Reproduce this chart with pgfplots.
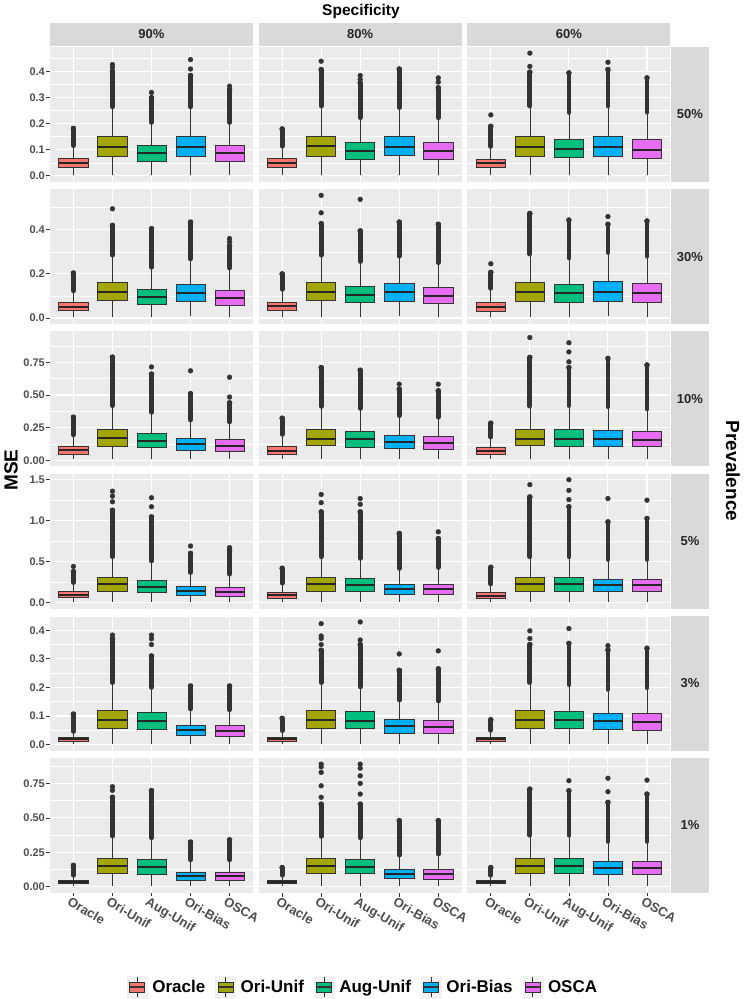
\documentclass[border=0pt]{standalone}
\usepackage{fontspec}
\setmainfont{Liberation Sans}
\usepackage{pgfplots}
\pgfplotsset{compat=1.18}
\usepgfplotslibrary{statistics}

\definecolor{cO}{HTML}{F8766D}
\definecolor{cU}{HTML}{A3A500}
\definecolor{cA}{HTML}{00BF7D}
\definecolor{cB}{HTML}{00B0F6}
\definecolor{cS}{HTML}{E76BF3}
\definecolor{ggbg}{HTML}{EBEBEB}
\definecolor{ggstrip}{HTML}{D9D9D9}
\definecolor{ggkey}{HTML}{F2F2F2}
\definecolor{gg20}{HTML}{333333}
\definecolor{gg30}{HTML}{4D4D4D}
\definecolor{ggtxt}{HTML}{262626}

% box: pos, colour, lower whisker, Q1, median, Q3, upper whisker, top of dense outlier column
\newcommand{\bx}[8]{%
\addplot[gg20, line width=4.8pt, line cap=round] coordinates {(#1,#7) (#1,#8)};
\addplot+[boxplot prepared={draw position=#1, lower whisker=#3, lower quartile=#4, median=#5, upper quartile=#6, upper whisker=#7, box extend=0.75, whisker extend=0}, draw=gg20, line width=0.7pt, fill=#2, solid, mark=*, mark size=2.4pt, mark options={draw=gg20, fill=gg20}] table[row sep=\\, y index=0] {y\\ #8\\};
}
\newcommand{\outl}[1]{\addplot[only marks, mark=*, mark size=2.4pt, gg20, mark options={draw=gg20, fill=gg20}] coordinates {#1};}

\pgfplotsset{
 panel/.style={scale only axis, width=203pt, height=135pt, anchor=south west,
   xmin=0.4, xmax=5.6, xtick={1,2,3,4,5}, xticklabels={},
   axis background/.style={fill=ggbg}, axis line style={draw=none},
   xmajorgrids, ymajorgrids, yminorgrids,
   major grid style={white, line width=1.1pt}, minor grid style={white, line width=0.55pt},
   tick align=outside, major tick length=3.5pt, minor tick length=0pt,
   xtick pos=left, ytick pos=left,
   tick style={gg20, line width=0.8pt},
   yticklabel style={font=\fontsize{11}{12}\selectfont\bfseries, text=gg30, inner sep=1.5pt},
   boxplot/draw direction=y,
   boxplot/every median/.style={line width=2pt, draw=black!85}},
 nox/.style={xtick style={draw=none}},
 noy/.style={ytick style={draw=none}, yticklabels={}},
 xlab/.style={xticklabels={Oracle,Ori-Unif,Aug-Unif,Ori-Bias,OSCA},
   xticklabel style={rotate=-30, anchor=north west, font=\fontsize{13}{14}\selectfont\bfseries, text=gg30, inner sep=1pt, xshift=-3pt}},
 r0/.style={ymin=-0.0235, ymax=0.4945, ytick={0,0.1,0.2,0.3,0.4}, yticklabels={0.0,0.1,0.2,0.3,0.4}, minor ytick={0.05,0.15,0.25,0.35,0.45}},
 r1/.style={ymin=-0.028, ymax=0.584, ytick={0,0.2,0.4}, yticklabels={0.0,0.2,0.4}, minor ytick={0.1,0.3,0.5}},
 r2/.style={ymin=-0.047, ymax=0.987, ytick={0,0.25,0.5,0.75}, yticklabels={0.00,0.25,0.50,0.75}, minor ytick={0.125,0.375,0.625,0.875}},
 r3/.style={ymin=-0.075, ymax=1.575, ytick={0,0.5,1,1.5}, yticklabels={0.0,0.5,1.0,1.5}, minor ytick={0.25,0.75,1.25}},
 r4/.style={ymin=-0.0215, ymax=0.4505, ytick={0,0.1,0.2,0.3,0.4}, yticklabels={0.0,0.1,0.2,0.3,0.4}, minor ytick={0.05,0.15,0.25,0.35,0.45}},
 r5/.style={ymin=-0.0445, ymax=0.9345, ytick={0,0.25,0.5,0.75}, yticklabels={0.00,0.25,0.50,0.75}, minor ytick={0.125,0.375,0.625,0.875}},
}

\begin{document}
\begin{tikzpicture}
\path[use as bounding box] (0pt,0pt) rectangle (746pt,999pt);

% ---------------- Row 0 : Prevalence 50% ----------------
\begin{axis}[panel, r0, nox, at={(50pt,817pt)}]
\bx{1}{cO}{0.005}{0.033}{0.050}{0.066}{0.116}{0.182}
\bx{2}{cU}{0.005}{0.075}{0.110}{0.151}{0.265}{0.400}
\bx{3}{cA}{0.005}{0.057}{0.087}{0.116}{0.205}{0.300}
\bx{4}{cB}{0.005}{0.075}{0.111}{0.151}{0.265}{0.385}
\bx{5}{cS}{0.005}{0.057}{0.087}{0.116}{0.205}{0.330}
\outl{(2,0.415) (2,0.427) (3,0.320) (4,0.410) (4,0.446) (5,0.344)}
\end{axis}
\begin{axis}[panel, r0, nox, noy, at={(258.7pt,817pt)}]
\bx{1}{cO}{0.005}{0.034}{0.050}{0.066}{0.114}{0.180}
\bx{2}{cU}{0.005}{0.075}{0.113}{0.152}{0.268}{0.408}
\bx{3}{cA}{0.005}{0.063}{0.094}{0.127}{0.223}{0.357}
\bx{4}{cB}{0.005}{0.077}{0.111}{0.151}{0.262}{0.410}
\bx{5}{cS}{0.005}{0.063}{0.094}{0.127}{0.223}{0.338}
\outl{(2,0.440) (3,0.370) (3,0.385) (5,0.360) (5,0.376)}
\end{axis}
\begin{axis}[panel, r0, nox, noy, at={(467.4pt,817pt)}]
\bx{1}{cO}{0.005}{0.033}{0.050}{0.065}{0.113}{0.190}
\bx{2}{cU}{0.005}{0.075}{0.112}{0.152}{0.268}{0.398}
\bx{3}{cA}{0.005}{0.070}{0.103}{0.139}{0.243}{0.395}
\bx{4}{cB}{0.005}{0.075}{0.112}{0.152}{0.268}{0.408}
\bx{5}{cS}{0.005}{0.069}{0.100}{0.139}{0.244}{0.376}
\outl{(1,0.234) (2,0.420) (2,0.471) (4,0.436)}
\end{axis}

% ---------------- Row 1 : 30% ----------------
\begin{axis}[panel, r1, nox, at={(50pt,674.8pt)}]
\bx{1}{cO}{0.005}{0.033}{0.051}{0.069}{0.123}{0.204}
\bx{2}{cU}{0.005}{0.080}{0.117}{0.162}{0.285}{0.420}
\bx{3}{cA}{0.005}{0.062}{0.095}{0.129}{0.230}{0.405}
\bx{4}{cB}{0.008}{0.075}{0.113}{0.152}{0.268}{0.435}
\bx{5}{cS}{0.005}{0.057}{0.090}{0.125}{0.227}{0.327}
\outl{(2,0.495) (5,0.345) (5,0.360)}
\end{axis}
\begin{axis}[panel, r1, nox, noy, at={(258.7pt,674.8pt)}]
\bx{1}{cO}{0.005}{0.033}{0.054}{0.072}{0.130}{0.200}
\bx{2}{cU}{0.005}{0.080}{0.117}{0.162}{0.285}{0.428}
\bx{3}{cA}{0.005}{0.069}{0.105}{0.144}{0.256}{0.395}
\bx{4}{cB}{0.008}{0.077}{0.117}{0.158}{0.280}{0.435}
\bx{5}{cS}{0.005}{0.066}{0.102}{0.140}{0.251}{0.425}
\outl{(2,0.477) (2,0.556) (3,0.538)}
\end{axis}
\begin{axis}[panel, r1, nox, noy, at={(467.4pt,674.8pt)}]
\bx{1}{cO}{0.005}{0.030}{0.051}{0.072}{0.135}{0.207}
\bx{2}{cU}{0.005}{0.077}{0.117}{0.162}{0.290}{0.474}
\bx{3}{cA}{0.005}{0.072}{0.113}{0.152}{0.272}{0.444}
\bx{4}{cB}{0.008}{0.077}{0.120}{0.165}{0.297}{0.425}
\bx{5}{cS}{0.005}{0.072}{0.113}{0.155}{0.280}{0.440}
\outl{(1,0.246) (4,0.460)}
\end{axis}

% ---------------- Row 2 : 10% ----------------
\begin{axis}[panel, r2, nox, at={(50pt,532.6pt)}]
\bx{1}{cO}{0.008}{0.046}{0.077}{0.105}{0.194}{0.330}
\bx{2}{cU}{0.008}{0.110}{0.174}{0.233}{0.418}{0.790}
\bx{3}{cA}{0.008}{0.097}{0.148}{0.205}{0.367}{0.660}
\bx{4}{cB}{0.008}{0.079}{0.125}{0.171}{0.309}{0.510}
\bx{5}{cS}{0.008}{0.069}{0.113}{0.159}{0.294}{0.440}
\outl{(3,0.715) (4,0.685) (5,0.484) (5,0.636)}
\end{axis}
\begin{axis}[panel, r2, nox, noy, at={(258.7pt,532.6pt)}]
\bx{1}{cO}{0.008}{0.043}{0.074}{0.105}{0.198}{0.322}
\bx{2}{cU}{0.008}{0.113}{0.166}{0.233}{0.413}{0.710}
\bx{3}{cA}{0.008}{0.102}{0.161}{0.220}{0.397}{0.690}
\bx{4}{cB}{0.008}{0.092}{0.143}{0.192}{0.342}{0.545}
\bx{5}{cS}{0.008}{0.087}{0.133}{0.184}{0.330}{0.532}
\outl{(4,0.583) (5,0.583)}
\end{axis}
\begin{axis}[panel, r2, nox, noy, at={(467.4pt,532.6pt)}]
\bx{1}{cO}{0.008}{0.043}{0.072}{0.097}{0.178}{0.284}
\bx{2}{cU}{0.008}{0.115}{0.166}{0.235}{0.415}{0.788}
\bx{3}{cA}{0.008}{0.110}{0.166}{0.233}{0.418}{0.710}
\bx{4}{cB}{0.008}{0.110}{0.166}{0.230}{0.410}{0.780}
\bx{5}{cS}{0.008}{0.105}{0.158}{0.220}{0.393}{0.730}
\outl{(2,0.940) (3,0.754) (3,0.830) (3,0.900)}
\end{axis}

% ---------------- Row 3 : 5% ----------------
\begin{axis}[panel, r3, nox, at={(50pt,390.4pt)}]
\bx{1}{cO}{0.01}{0.061}{0.097}{0.134}{0.244}{0.377}
\bx{2}{cU}{0.01}{0.134}{0.223}{0.304}{0.559}{1.127}
\bx{3}{cA}{0.01}{0.122}{0.195}{0.276}{0.507}{1.046}
\bx{4}{cB}{0.01}{0.081}{0.138}{0.195}{0.366}{0.600}
\bx{5}{cS}{0.01}{0.073}{0.130}{0.182}{0.346}{0.640}
\outl{(1,0.44) (2,1.23) (2,1.30) (2,1.36) (3,1.17) (3,1.28) (4,0.69) (5,0.67)}
\end{axis}
\begin{axis}[panel, r3, nox, noy, at={(258.7pt,390.4pt)}]
\bx{1}{cO}{0.01}{0.053}{0.089}{0.126}{0.236}{0.418}
\bx{2}{cU}{0.01}{0.134}{0.223}{0.304}{0.559}{1.107}
\bx{3}{cA}{0.01}{0.134}{0.211}{0.296}{0.539}{1.107}
\bx{4}{cB}{0.01}{0.101}{0.170}{0.227}{0.416}{0.843}
\bx{5}{cS}{0.01}{0.093}{0.162}{0.227}{0.428}{0.780}
\outl{(2,1.22) (2,1.32) (3,1.20) (3,1.27) (5,0.863)}
\end{axis}
\begin{axis}[panel, r3, nox, noy, at={(467.4pt,390.4pt)}]
\bx{1}{cO}{0.01}{0.053}{0.085}{0.122}{0.226}{0.430}
\bx{2}{cU}{0.01}{0.134}{0.223}{0.304}{0.559}{1.290}
\bx{3}{cA}{0.01}{0.134}{0.223}{0.304}{0.559}{1.170}
\bx{4}{cB}{0.01}{0.130}{0.211}{0.288}{0.525}{0.985}
\bx{5}{cS}{0.01}{0.130}{0.211}{0.288}{0.525}{1.026}
\outl{(2,1.44) (3,1.257) (3,1.37) (3,1.50) (4,1.27) (5,1.25)}
\end{axis}

% ---------------- Row 4 : 3% ----------------
\begin{axis}[panel, r4, nox, at={(50pt,248.2pt)}]
\bx{1}{cO}{0.003}{0.013}{0.020}{0.026}{0.046}{0.107}
\bx{2}{cU}{0.003}{0.057}{0.087}{0.121}{0.217}{0.370}
\bx{3}{cA}{0.003}{0.055}{0.083}{0.113}{0.200}{0.310}
\bx{4}{cB}{0.003}{0.032}{0.050}{0.069}{0.125}{0.205}
\bx{5}{cS}{0.003}{0.030}{0.048}{0.067}{0.122}{0.205}
\outl{(2,0.383) (3,0.350) (3,0.370) (3,0.383)}
\end{axis}
\begin{axis}[panel, r4, nox, noy, at={(258.7pt,248.2pt)}]
\bx{1}{cO}{0.003}{0.011}{0.020}{0.026}{0.049}{0.092}
\bx{2}{cU}{0.003}{0.057}{0.087}{0.121}{0.217}{0.330}
\bx{3}{cA}{0.003}{0.057}{0.084}{0.115}{0.202}{0.350}
\bx{4}{cB}{0.003}{0.041}{0.064}{0.087}{0.156}{0.260}
\bx{5}{cS}{0.003}{0.038}{0.061}{0.084}{0.153}{0.265}
\outl{(2,0.350) (2,0.371) (2,0.380) (2,0.423) (3,0.366) (3,0.429) (4,0.317) (5,0.328)}
\end{axis}
\begin{axis}[panel, r4, nox, noy, at={(467.4pt,248.2pt)}]
\bx{1}{cO}{0.003}{0.010}{0.018}{0.026}{0.050}{0.087}
\bx{2}{cU}{0.003}{0.057}{0.087}{0.121}{0.217}{0.350}
\bx{3}{cA}{0.003}{0.057}{0.087}{0.118}{0.210}{0.354}
\bx{4}{cB}{0.003}{0.053}{0.082}{0.109}{0.193}{0.331}
\bx{5}{cS}{0.003}{0.049}{0.080}{0.109}{0.199}{0.337}
\outl{(2,0.371) (2,0.398) (3,0.406) (4,0.346)}
\end{axis}

% ---------------- Row 5 : 1% ----------------
\begin{axis}[panel, r5, xlab, at={(50pt,106pt)}]
\bx{1}{cO}{0.005}{0.024}{0.036}{0.048}{0.084}{0.156}
\bx{2}{cU}{0.005}{0.096}{0.148}{0.205}{0.369}{0.650}
\bx{3}{cA}{0.005}{0.091}{0.144}{0.197}{0.356}{0.698}
\bx{4}{cB}{0.005}{0.046}{0.077}{0.106}{0.196}{0.325}
\bx{5}{cS}{0.005}{0.046}{0.077}{0.106}{0.196}{0.341}
\outl{(2,0.700) (2,0.726)}
\end{axis}
\begin{axis}[panel, r5, xlab, noy, at={(258.7pt,106pt)},
  legend columns=5,
  legend style={at={(axis description cs:0.514,-0.696)}, anchor=center, draw=none, fill=none,
    font=\fontsize{17}{19}\selectfont\bfseries,
    /tikz/every even column/.append style={column sep=8pt},
    /tikz/every odd column/.append style={column sep=3pt}},
  legend cell align=left]
\addlegendimage{legend image code/.code={\fill[ggkey] (0pt,-11pt) rectangle (20pt,11pt); \draw[gg20, line width=0.7pt] (10pt,5pt)--(10pt,10pt) (10pt,-5pt)--(10pt,-10pt); \draw[gg20, fill=cO, line width=0.7pt] (2.5pt,-5pt) rectangle (17.5pt,5pt); \draw[gg20, line width=1.5pt] (2.5pt,0pt)--(17.5pt,0pt);}}
\addlegendentry{Oracle}
\addlegendimage{legend image code/.code={\fill[ggkey] (0pt,-11pt) rectangle (20pt,11pt); \draw[gg20, line width=0.7pt] (10pt,5pt)--(10pt,10pt) (10pt,-5pt)--(10pt,-10pt); \draw[gg20, fill=cU, line width=0.7pt] (2.5pt,-5pt) rectangle (17.5pt,5pt); \draw[gg20, line width=1.5pt] (2.5pt,0pt)--(17.5pt,0pt);}}
\addlegendentry{Ori-Unif}
\addlegendimage{legend image code/.code={\fill[ggkey] (0pt,-11pt) rectangle (20pt,11pt); \draw[gg20, line width=0.7pt] (10pt,5pt)--(10pt,10pt) (10pt,-5pt)--(10pt,-10pt); \draw[gg20, fill=cA, line width=0.7pt] (2.5pt,-5pt) rectangle (17.5pt,5pt); \draw[gg20, line width=1.5pt] (2.5pt,0pt)--(17.5pt,0pt);}}
\addlegendentry{Aug-Unif}
\addlegendimage{legend image code/.code={\fill[ggkey] (0pt,-11pt) rectangle (20pt,11pt); \draw[gg20, line width=0.7pt] (10pt,5pt)--(10pt,10pt) (10pt,-5pt)--(10pt,-10pt); \draw[gg20, fill=cB, line width=0.7pt] (2.5pt,-5pt) rectangle (17.5pt,5pt); \draw[gg20, line width=1.5pt] (2.5pt,0pt)--(17.5pt,0pt);}}
\addlegendentry{Ori-Bias}
\addlegendimage{legend image code/.code={\fill[ggkey] (0pt,-11pt) rectangle (20pt,11pt); \draw[gg20, line width=0.7pt] (10pt,5pt)--(10pt,10pt) (10pt,-5pt)--(10pt,-10pt); \draw[gg20, fill=cS, line width=0.7pt] (2.5pt,-5pt) rectangle (17.5pt,5pt); \draw[gg20, line width=1.5pt] (2.5pt,0pt)--(17.5pt,0pt);}}
\addlegendentry{OSCA}
\bx{1}{cO}{0.005}{0.024}{0.036}{0.048}{0.084}{0.140}
\bx{2}{cU}{0.005}{0.096}{0.149}{0.204}{0.366}{0.600}
\bx{3}{cA}{0.005}{0.096}{0.144}{0.200}{0.356}{0.600}
\bx{4}{cB}{0.005}{0.063}{0.096}{0.130}{0.230}{0.480}
\bx{5}{cS}{0.005}{0.058}{0.096}{0.130}{0.238}{0.480}
\outl{(2,0.650) (2,0.733) (2,0.830) (2,0.870) (2,0.890) (3,0.673) (3,0.750) (3,0.805) (3,0.860) (3,0.890)}
\end{axis}
\begin{axis}[panel, r5, xlab, noy, at={(467.4pt,106pt)}]
\bx{1}{cO}{0.005}{0.024}{0.036}{0.048}{0.084}{0.140}
\bx{2}{cU}{0.005}{0.096}{0.149}{0.207}{0.374}{0.709}
\bx{3}{cA}{0.005}{0.096}{0.149}{0.207}{0.374}{0.697}
\bx{4}{cB}{0.005}{0.089}{0.135}{0.185}{0.329}{0.613}
\bx{5}{cS}{0.005}{0.089}{0.135}{0.185}{0.329}{0.673}
\outl{(3,0.770) (4,0.690) (4,0.788) (5,0.774)}
\end{axis}

% ---------------- strips and titles ----------------
\tikzset{stripfont/.style={font=\fontsize{13}{14}\selectfont\bfseries, text=ggtxt}}
\fill[ggstrip] (50pt,953pt) rectangle (253pt,976pt);
\fill[ggstrip] (258.7pt,953pt) rectangle (461.7pt,976pt);
\fill[ggstrip] (467.4pt,953pt) rectangle (670.4pt,976pt);
\node[stripfont] at (151.5pt,964.5pt) {90\%};
\node[stripfont] at (360.2pt,964.5pt) {80\%};
\node[stripfont] at (568.9pt,964.5pt) {60\%};

\fill[ggstrip] (671.4pt,817pt) rectangle (708.6pt,952pt);
\fill[ggstrip] (671.4pt,674.8pt) rectangle (708.6pt,809.8pt);
\fill[ggstrip] (671.4pt,532.6pt) rectangle (708.6pt,667.6pt);
\fill[ggstrip] (671.4pt,390.4pt) rectangle (708.6pt,525.4pt);
\fill[ggstrip] (671.4pt,248.2pt) rectangle (708.6pt,383.2pt);
\fill[ggstrip] (671.4pt,106pt) rectangle (708.6pt,241pt);
\node[stripfont] at (690pt,884.5pt) {50\%};
\node[stripfont] at (690pt,742.3pt) {30\%};
\node[stripfont] at (690pt,600.1pt) {10\%};
\node[stripfont] at (690pt,457.9pt) {5\%};
\node[stripfont] at (690pt,315.7pt) {3\%};
\node[stripfont] at (690pt,173.5pt) {1\%};

\node[font=\fontsize{15.5}{17}\selectfont\bfseries, anchor=base] at (361pt,983pt) {Specificity};
\node[font=\fontsize{19}{21}\selectfont\bfseries, rotate=90] at (11pt,529pt) {MSE};
\node[font=\fontsize{19}{21}\selectfont\bfseries, rotate=-90] at (733pt,528pt) {Prevalence};
\end{tikzpicture}
\end{document}
